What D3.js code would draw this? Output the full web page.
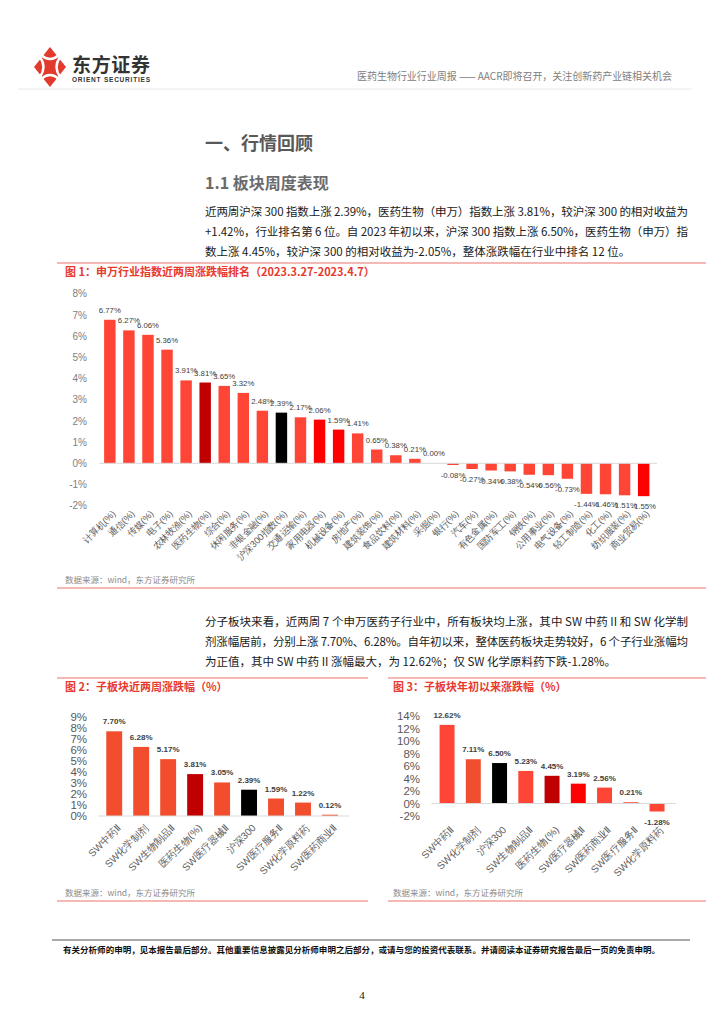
<!DOCTYPE html>
<html>
<head>
<meta charset="utf-8">
<script src="https://cdn.jsdelivr.net/npm/d3@7"></script>
<style>
  body { margin: 0; background: #fff; }
  svg { display: block; font-family: "Noto Sans CJK SC", "Noto Sans", sans-serif; }
</style>
</head>
<body>
<script>
// ---- data ----
var industries = ["计算机(%)", "通信(%)", "传媒(%)", "电子(%)", "农林牧渔(%)", "医药生物(%)", "综合(%)",
  "休闲服务(%)", "非银金融(%)", "沪深300指数(%)", "交通运输(%)", "家用电器(%)", "机械设备(%)", "房地产(%)",
  "建筑装饰(%)", "食品饮料(%)", "建筑材料(%)", "采掘(%)", "银行(%)", "汽车(%)", "有色金属(%)", "国防军工(%)",
  "钢铁(%)", "公用事业(%)", "电气设备(%)", "轻工制造(%)", "化工(%)", "纺织服装(%)", "商业贸易(%)"];
var industryValues = [6.77, 6.27, 6.06, 5.36, 3.91, 3.81, 3.65, 3.32, 2.48, 2.39, 2.17, 2.06, 1.59, 1.41,
  0.65, 0.38, 0.21, 0.00, -0.08, -0.27, -0.34, -0.38, -0.54, -0.56, -0.73, -1.44, -1.46, -1.51, -1.55];
var industryTicks = [-2, -1, 0, 1, 2, 3, 4, 5, 6, 7, 8];

var subWeek = ["SW中药Ⅱ", "SW化学制剂", "SW生物制品Ⅱ", "医药生物(%)", "SW医疗器械Ⅱ", "沪深300",
  "SW医疗服务Ⅱ", "SW化学原料药", "SW医药商业Ⅱ"];
var subWeekValues = [7.70, 6.28, 5.17, 3.81, 3.05, 2.39, 1.59, 1.22, 0.12];
var subWeekTicks = [0, 1, 2, 3, 4, 5, 6, 7, 8, 9];

var subYear = ["SW中药Ⅱ", "SW化学制剂", "沪深300", "SW生物制品Ⅱ", "医药生物(%)", "SW医疗器械Ⅱ",
  "SW医药商业Ⅱ", "SW医疗服务Ⅱ", "SW化学原料药"];
var subYearValues = [12.62, 7.11, 6.50, 5.23, 4.45, 3.19, 2.56, 0.21, -1.28];
var subYearTicks = [-2, 0, 2, 4, 6, 8, 10, 12, 14];

var W = 724, H = 1024;
var svg = d3.select("body").append("svg").attr("width", W).attr("height", H);

// ---- header ----
var logo = svg.append("g").attr("transform", "translate(50,67)");
logo.append("path").attr("d", "M0,-20 L16,0 L0,20 L-16,0 Z").attr("fill", "#e23b2e");
logo.append("path").attr("d", "M-9,-12 Q0,-4 9,-12").attr("stroke", "#fff").attr("stroke-width", 2.5).attr("fill", "none");
logo.append("path").attr("d", "M-9,12 Q0,4 9,12").attr("stroke", "#fff").attr("stroke-width", 2.5).attr("fill", "none");
logo.append("path").attr("d", "M-10,-10 Q-3,0 -10,10").attr("stroke", "#fff").attr("stroke-width", 2.5).attr("fill", "none");
logo.append("path").attr("d", "M10,-10 Q3,0 10,10").attr("stroke", "#fff").attr("stroke-width", 2.5).attr("fill", "none");

svg.append("text").attr("x", 72).attr("y", 72).attr("font-size", 19).attr("font-weight", "bold")
  .attr("fill", "#333").attr("textLength", 78).text("东方证券");
svg.append("text").attr("x", 72).attr("y", 82).attr("font-size", 6.5).attr("font-weight", "bold")
  .attr("fill", "#333").attr("textLength", 78).attr("font-family", "Liberation Sans").text("ORIENT SECURITIES");
svg.append("text").attr("x", 357).attr("y", 80).attr("font-size", 10).attr("fill", "#808080")
  .attr("textLength", 315).text("医药生物行业行业周报 —— AACR即将召开，关注创新药产业链相关机会");
svg.append("line").attr("x1", 18).attr("x2", 692).attr("y1", 89).attr("y2", 89)
  .attr("stroke", "#e8e8e8");

// ---- headings & text ----
svg.append("text").attr("x", 205).attr("y", 150).attr("font-size", 18).attr("font-weight", "bold")
  .attr("fill", "#595959").text("一、行情回顾");
svg.append("text").attr("x", 205).attr("y", 189).attr("font-size", 16).attr("font-weight", "bold")
  .attr("fill", "#6b6b6b").text("1.1 板块周度表现");

function para(lines, x, y0, width) {
  lines.forEach(function (t, i) {
    var tx = svg.append("text").attr("x", x).attr("y", y0 + i * 20).attr("font-size", 11.5)
      .attr("fill", "#1a1a1a").text(t);
    if (i < lines.length - 1) tx.attr("textLength", width).attr("lengthAdjust", "spacing");
  });
}
para(["近两周沪深 300 指数上涨 2.39%，医药生物（申万）指数上涨 3.81%，较沪深 300 的相对收益为",
  "+1.42%，行业排名第 6 位。自 2023 年初以来，沪深 300 指数上涨 6.50%，医药生物（申万）指",
  "数上涨 4.45%，较沪深 300 的相对收益为-2.05%，整体涨跌幅在行业中排名 12 位。"], 205, 216, 483);

para(["分子板块来看，近两周 7 个申万医药子行业中，所有板块均上涨，其中 SW 中药 II 和 SW 化学制",
  "剂涨幅居前，分别上涨 7.70%、6.28%。自年初以来，整体医药板块走势较好，6 个子行业涨幅均",
  "为正值，其中 SW 中药 II 涨幅最大，为 12.62%；仅 SW 化学原料药下跌-1.28%。"], 205, 626, 483);

// ---- frame lines / titles / sources ----
function frameLine(x1, x2, y) {
  svg.append("line").attr("x1", x1).attr("x2", x2).attr("y1", y).attr("y2", y)
    .attr("stroke", "#f0a29b").attr("stroke-width", 1.5);
}
function title(x, y, t) {
  svg.append("text").attr("x", x).attr("y", y).attr("font-size", 11).attr("font-weight", "bold")
    .attr("fill", "#e8392d").text(t);
}
function source(x, y) {
  svg.append("text").attr("x", x).attr("y", y).attr("font-size", 8.5).attr("fill", "#8c8c8c")
    .text("数据来源：wind，东方证券研究所");
}

frameLine(57, 706, 263);
title(65, 276, "图 1：申万行业指数近两周涨跌幅排名（2023.3.27-2023.4.7）");
source(65, 583);
frameLine(57, 706, 588);

frameLine(57, 368, 678);
title(65, 691, "图 2：子板块近两周涨跌幅（%）");
source(65, 896);
frameLine(57, 368, 901);

frameLine(388, 706, 678);
title(393, 691, "图 3：子板块年初以来涨跌幅（%）");
source(393, 896);
frameLine(388, 706, 901);

// ---- generic bar chart ----
function barChart(opt) {
  var g = svg.append("g");
  var x = d3.scaleBand().domain(opt.cats).range(opt.xr).padding(opt.pad);
  var y = d3.scaleLinear().domain(opt.yd).range(opt.yr);

  var yAxis = d3.axisLeft(y).tickValues(opt.ticks).tickSize(0).tickPadding(0)
    .tickFormat(function (d) { return d + "%"; });
  var ya = g.append("g").attr("transform", "translate(" + opt.tickX + ",0)").call(yAxis);
  ya.select(".domain").remove();
  ya.selectAll("text").attr("font-size", opt.tickFont).attr("fill", opt.tickColor)
    .attr("font-family", "Liberation Sans, Arial, sans-serif");

  g.selectAll("rect.bar").data(opt.cats).enter().append("rect")
    .attr("x", function (d) { return x(d); })
    .attr("width", x.bandwidth())
    .attr("y", function (d, i) { return y(Math.max(0, opt.vals[i])); })
    .attr("height", function (d, i) { return Math.abs(y(opt.vals[i]) - y(0)); })
    .attr("fill", function (d, i) { return opt.color(d, i); });

  g.append("line").attr("x1", opt.xr[0] + 3).attr("x2", opt.xr[1]).attr("y1", y(0)).attr("y2", y(0))
    .attr("stroke", "#d9d9d9");

  g.selectAll("text.val").data(opt.cats).enter().append("text")
    .attr("x", function (d) { return x(d) + x.bandwidth() / 2; })
    .attr("y", function (d, i) {
      var v = opt.vals[i];
      return v >= 0 ? y(v) - opt.valGap : y(v) + opt.valGap + 6;
    })
    .attr("text-anchor", "middle").attr("font-size", opt.valFont).attr("font-weight", opt.valWeight)
    .attr("fill", "#404040").attr("font-family", "Liberation Sans, Arial, sans-serif")
    .text(function (d, i) { return opt.vals[i].toFixed(2) + "%"; });

  var xa = g.append("g").attr("transform", "translate(0," + opt.labY + ")")
    .call(d3.axisBottom(x).tickSize(0).tickPadding(0));
  xa.select(".domain").remove();
  xa.selectAll("text").attr("y", 0).attr("dy", "0.35em")
    .attr("transform", "translate(" + opt.labDx + ",0) rotate(-45)")
    .attr("text-anchor", "end").attr("font-size", opt.labFont).attr("fill", "#595959");
}

var base = "#ff4535";
function c1(d) {
  if (d === "医药生物(%)") return "#c00000";
  if (d === "沪深300指数(%)") return "#000";
  if (d === "家用电器(%)" || d === "机械设备(%)" || d === "商业贸易(%)") return "#ff0000";
  return base;
}
barChart({
  cats: industries, vals: industryValues, ticks: industryTicks,
  xr: [96.5, 657], pad: 0.4, yd: [-2, 8], yr: [505.7, 293.7],
  tickX: 87, tickFont: 10, tickColor: "#808080",
  valGap: 7, valFont: 7.8, valWeight: "normal",
  labY: 512, labDx: 4, labFont: 9.3, color: c1
});

function c2(d) {
  if (d === "医药生物(%)") return "#c00000";
  if (d === "沪深300") return "#000";
  return "#f24e2e";
}
barChart({
  cats: subWeek, vals: subWeekValues, ticks: subWeekTicks,
  xr: [95.2, 349], pad: 0.41, yd: [0, 9], yr: [816, 717],
  tickX: 87, tickFont: 11.5, tickColor: "#595959",
  valGap: 7, valFont: 8, valWeight: "bold",
  labY: 826, labDx: 5, labFont: 10, color: c2
});

function c3(d) {
  if (d === "医药生物(%)") return "#c00000";
  if (d === "沪深300") return "#000";
  if (d === "SW化学制剂") return "#f04e2e";
  if (d === "SW医疗器械Ⅱ") return "#ff0000";
  return base;
}
barChart({
  cats: subYear, vals: subYearValues, ticks: subYearTicks,
  xr: [428.3, 675.8], pad: 0.43, yd: [-2, 14], yr: [816, 716.3],
  tickX: 420, tickFont: 11.5, tickColor: "#595959",
  valGap: 7, valFont: 8, valWeight: "bold",
  labY: 828, labDx: 5, labFont: 10, color: c3
});

// ---- footer ----
svg.append("line").attr("x1", 52).attr("x2", 690).attr("y1", 940).attr("y2", 940)
  .attr("stroke", "#555").attr("stroke-width", 1);
svg.append("text").attr("x", 63).attr("y", 953).attr("font-size", 8.5).attr("font-weight", "bold")
  .attr("fill", "#111").attr("textLength", 597)
  .text("有关分析师的申明，见本报告最后部分。其他重要信息披露见分析师申明之后部分，或请与您的投资代表联系。并请阅读本证券研究报告最后一页的免责申明。");
svg.append("text").attr("x", 362).attr("y", 999).attr("text-anchor", "middle").attr("font-size", 11)
  .attr("font-family", "Liberation Serif").attr("fill", "#111").text("4");
</script>
</body>
</html>
